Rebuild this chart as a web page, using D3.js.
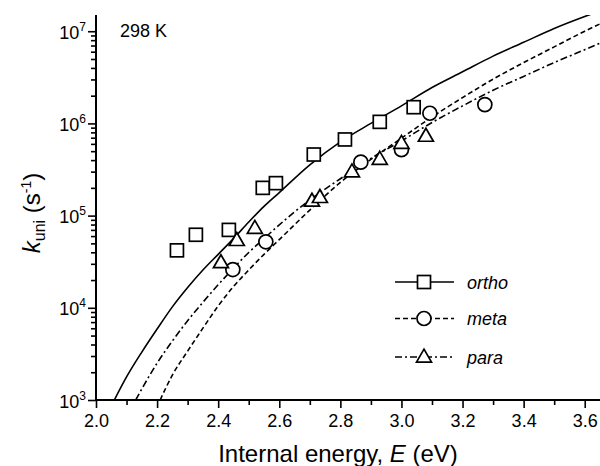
<!DOCTYPE html>
<html><head><meta charset="utf-8">
<script src="https://cdn.jsdelivr.net/npm/d3@7"></script>
<style>
html,body{margin:0;padding:0;background:#fff;}
text{font-family:Arial,"Liberation Sans",sans-serif;fill:#000;}
</style></head>
<body><svg id="c" width="600" height="466"></svg>
<script>
// ---------- data ----------
const seriesNames = ["ortho", "meta", "para"];
// experimental points [E (eV), k (s^-1)]
const orthoPts = [[2.265,4.2e4],[2.327,6.2e4],[2.435,7.0e4],[2.546,2.0e5],[2.589,2.25e5],[2.713,4.6e5],[2.815,6.7e5],[2.929,1.04e6],[3.04,1.5e6]];
const metaPts  = [[2.448,2.6e4],[2.556,5.2e4],[2.867,3.8e5],[3.0,5.2e5],[3.093,1.29e6],[3.273,1.6e6]];
const paraPts  = [[2.409,3.1e4],[2.461,5.4e4],[2.52,7.3e4],[2.707,1.44e5],[2.733,1.58e5],[2.838,3.0e5],[2.929,4.1e5],[3.0,6.1e5],[3.08,7.3e5]];
// model curves: E grid and log10(k)
const orthoCurveE = [2.06,2.10,2.15,2.20,2.25,2.30,2.35,2.40,2.45,2.50,2.55,2.60,2.70,2.80,2.90,3.00,3.10,3.20,3.30,3.40,3.50,3.60,3.65];
const orthoCurveLogK = [3.0,3.25,3.52,3.77,4.01,4.22,4.41,4.58,4.75,4.93,5.10,5.25,5.55,5.80,6.00,6.19,6.39,6.56,6.73,6.88,7.03,7.16,7.22];
const metaCurveE = [2.21,2.25,2.30,2.35,2.40,2.45,2.50,2.55,2.60,2.70,2.80,2.90,3.00,3.10,3.20,3.30,3.40,3.50,3.60,3.65];
const metaCurveLogK = [3.0,3.27,3.53,3.78,4.02,4.23,4.41,4.58,4.74,5.06,5.36,5.61,5.84,6.07,6.28,6.48,6.66,6.83,7.00,7.08];
const paraCurveE = [2.13,2.15,2.20,2.25,2.30,2.35,2.40,2.45,2.50,2.55,2.60,2.70,2.80,2.90,3.00,3.10,3.20,3.30,3.40,3.50,3.60,3.65];
const paraCurveLogK = [3.0,3.12,3.40,3.64,3.86,4.06,4.25,4.43,4.60,4.75,4.90,5.17,5.40,5.62,5.81,6.01,6.19,6.36,6.51,6.66,6.80,6.87];
const xTickValues = [2.0,2.2,2.4,2.6,2.8,3.0,3.2,3.4,3.6];
const xMinorValues = [2.1,2.3,2.5,2.7,2.9,3.1,3.3,3.5];
const yTickExps = [3,4,5,6,7];
const tempLabel = "298 K";

// ---------- layout ----------
const svg = d3.select("#c");
const L = 96, R = 600, T = 15, B = 400;
const x = d3.scaleLinear().domain([2.0, 3.65]).range([L, R]);
const y = d3.scaleLog().domain([1e3, 1.5e7]).range([B, T]);

svg.append("defs").append("clipPath").attr("id","clip")
  .append("rect").attr("x",L).attr("y",T).attr("width",R-L).attr("height",B-T);

const styles = {
  ortho: {dash: null, shape: "square"},
  meta: {dash: "5,3", shape: "circle"},
  para: {dash: "7,3,2,3", shape: "triangle"}
};
const curves = {
  ortho: orthoCurveE.map((e,i)=>[e, Math.pow(10, orthoCurveLogK[i])]),
  meta: metaCurveE.map((e,i)=>[e, Math.pow(10, metaCurveLogK[i])]),
  para: paraCurveE.map((e,i)=>[e, Math.pow(10, paraCurveLogK[i])])
};
const pts = {ortho: orthoPts, meta: metaPts, para: paraPts};

// curves
const line = d3.line().x(d=>x(d[0])).y(d=>y(d[1])).curve(d3.curveMonotoneX);
const gCurves = svg.append("g").attr("clip-path","url(#clip)");
seriesNames.forEach(s=>{
  gCurves.append("path").datum(curves[s]).attr("d", line)
    .attr("fill","none").attr("stroke","#000").attr("stroke-width",1.6)
    .attr("stroke-dasharray", styles[s].dash);
});

// markers
function marker(g, shape, cx, cy){
  const sw = 1.7;
  if (shape==="square") {
    g.append("rect").attr("x",cx-6.5).attr("y",cy-6.5).attr("width",13).attr("height",13)
      .attr("fill","#fff").attr("stroke","#000").attr("stroke-width",sw);
  } else if (shape==="circle") {
    g.append("circle").attr("cx",cx).attr("cy",cy).attr("r",7)
      .attr("fill","#fff").attr("stroke","#000").attr("stroke-width",sw);
  } else {
    const h = 13, w = 15;
    g.append("path").attr("d",`M${cx},${cy-h*0.6}L${cx+w/2},${cy+h*0.4}L${cx-w/2},${cy+h*0.4}Z`)
      .attr("fill","#fff").attr("stroke","#000").attr("stroke-width",sw).attr("stroke-linejoin","miter");
  }
}
const gPts = svg.append("g");
["meta","ortho","para"].forEach(s=>{
  pts[s].forEach(d=>marker(gPts, styles[s].shape, x(d[0]), y(d[1])));
});

// axes
const xAxis = d3.axisBottom(x).tickValues(xTickValues).tickFormat(d3.format(".1f")).tickSize(8).tickPadding(6);
const gx = svg.append("g").attr("transform",`translate(0,${B})`).call(xAxis);
gx.select(".domain").remove();
gx.selectAll(".tick line").attr("stroke-width",1.6);
gx.selectAll(".tick text").style("font-size","18px").attr("font-family","Arial, Liberation Sans, sans-serif");
const gxm = svg.append("g").attr("transform",`translate(0,${B})`)
  .call(d3.axisBottom(x).tickValues(xMinorValues).tickSize(5).tickFormat(""));
gxm.select(".domain").remove();
gxm.selectAll(".tick line").attr("stroke-width",1.6);

const yMinor = [];
for (let e=3; e<=7; e++) for (let m=2; m<=9; m++) { const v=m*Math.pow(10,e); if (v<=1.5e7) yMinor.push(v); }
const gym = svg.append("g").attr("transform",`translate(${L},0)`)
  .call(d3.axisLeft(y).tickValues(yMinor).tickSize(5).tickFormat(""));
gym.select(".domain").remove();
gym.selectAll(".tick line").attr("stroke-width",1.6);
const gy = svg.append("g").attr("transform",`translate(${L},0)`)
  .call(d3.axisLeft(y).tickValues(yTickExps.map(e=>Math.pow(10,e))).tickSize(8).tickFormat(""));
gy.select(".domain").remove();
gy.selectAll(".tick line").attr("stroke-width",1.6);
gy.selectAll(".tick").each(function(d){
  const t = d3.select(this).append("text").attr("x",-10).attr("y",7).attr("text-anchor","end")
    .style("font-size","18px");
  t.append("tspan").text("10");
  t.append("tspan").attr("dy",-8).style("font-size","12px").text(Math.round(Math.log10(d)));
});

// axis lines
svg.append("line").attr("x1",L).attr("x2",L).attr("y1",T).attr("y2",B+1).attr("stroke","#000").attr("stroke-width",2);
svg.append("line").attr("x1",L-1).attr("x2",R).attr("y1",B).attr("y2",B).attr("stroke","#000").attr("stroke-width",2);

// titles
const xt = svg.append("text").attr("x",338).attr("y",462).attr("text-anchor","middle").style("font-size","24px");
xt.append("tspan").text("Internal energy, ");
xt.append("tspan").style("font-style","italic").text("E");
xt.append("tspan").text(" (eV)");

const yt = svg.append("text").attr("transform","translate(40,213) rotate(-90)").attr("text-anchor","middle").style("font-size","24px");
yt.append("tspan").style("font-style","italic").text("k");
yt.append("tspan").attr("dy",5).style("font-size","16px").text("uni");
yt.append("tspan").attr("dy",-5).text(" (s");
yt.append("tspan").attr("dy",-9).style("font-size","14px").text("-1");
yt.append("tspan").attr("dy",9).text(")");

svg.append("text").attr("x",120).attr("y",37).style("font-size","18px").text(tempLabel);

// legend
const legY = [282, 318.5, 357];
seriesNames.forEach((s,i)=>{
  const g = svg.append("g");
  g.append("line").attr("x1",395).attr("x2",454).attr("y1",legY[i]).attr("y2",legY[i])
    .attr("stroke","#000").attr("stroke-width",1.6).attr("stroke-dasharray", styles[s].dash);
  marker(g, styles[s].shape, 424, legY[i]);
  g.append("text").attr("x",467).attr("y",legY[i]+6.5).style("font-size","18px").style("font-style","italic").text(s);
});
</script></body></html>
